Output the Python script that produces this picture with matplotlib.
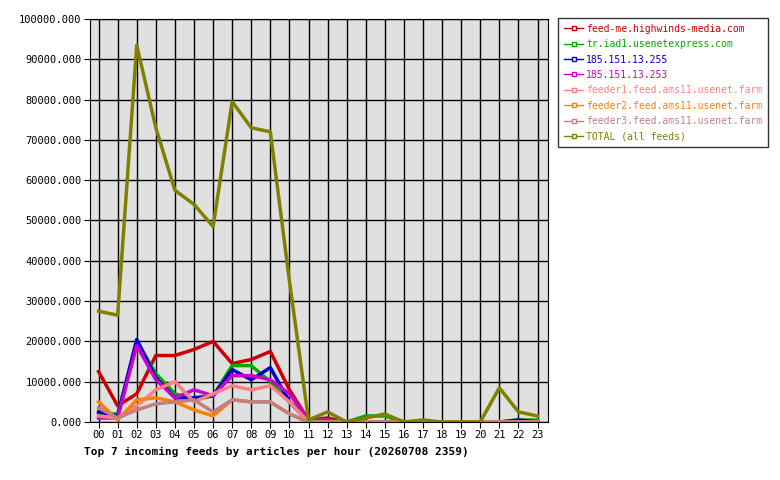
import numpy as np
import matplotlib.pyplot as plt
from matplotlib.lines import Line2D

hours = [f"{h:02d}" for h in range(24)]
names = ["feed-me.highwinds-media.com", "tr.iad1.usenetexpress.com",
         "185.151.13.255", "185.151.13.253",
         "feeder1.feed.ams11.usenet.farm", "feeder2.feed.ams11.usenet.farm",
         "feeder3.feed.ams11.usenet.farm", "TOTAL (all feeds)"]
colors = ["#cc0000", "#00aa00", "#0000cc", "#cc00cc",
          "#ff8080", "#ff8000", "#c08080", "#808000"]
z = [0] * 13
red = [12500, 4000, 7000, 16500, 16500, 18000, 20000, 14500, 15500, 17500, 8000] + [500, 1000] + [0] * 11
green = [2000, 2000, 20000, 12000, 7000, 5500, 6500, 14000, 14000, 10000, 5000, 500, 500, 0, 1500, 1500, 0, 0, 0, 0, 0, 0, 500, 500]
blue = [2500, 1500, 20500, 11000, 6000, 6000, 6500, 13000, 10500, 13500, 5000, 0, 0] + [0] * 9 + [500, 0]
magenta = [1000, 1000, 19000, 10500, 6000, 8000, 6500, 11500, 11500, 10500, 7000, 500, 500] + [0] * 11
feeder1 = [1500, 1000, 4000, 8000, 10000, 5000, 7000, 9000, 8000, 9000, 5000] + z
feeder2 = [5000, 500, 5500, 6000, 5000, 3000, 1500, 5500, 5000, 5000, 2000] + z
feeder3 = [3500, 1000, 3000, 4500, 5000, 5500, 2500, 5500, 5000, 5000, 2000] + z
total = [27500, 26500, 93500, 73000, 57500, 54000, 48500, 79500, 73000, 72000, 35000,
         500, 2500, 0, 1000, 2000, 0, 500, 0, 0, 0, 8500, 2500, 1500]
series = [red, green, blue, magenta, feeder1, feeder2, feeder3, total]

plt.rcParams["font.family"] = "DejaVu Sans Mono"
fig = plt.figure(figsize=(7.8, 4.8), dpi=100)
ax = fig.add_axes([90 / 780, 58 / 480, 458 / 780, 403 / 480])
ax.set_facecolor("#e0e0e0")
x = np.arange(24)
for s, c in zip(series, colors):
    ax.plot(x, s, color=c, lw=2.5)
ax.set_xlim(-0.45, 23.55)
ax.set_ylim(0, 100000)
ax.set_xticks(x)
ax.set_xticklabels(hours, fontsize=7.5)
ax.set_yticks(np.arange(0, 100001, 10000))
ax.set_yticklabels([f"{v}.000" for v in range(0, 100001, 10000)], fontsize=7.5)
ax.grid(color="black", lw=1)
ax.set_axisbelow(True)
for sp in ax.spines.values():
    sp.set_color("black")
ax.tick_params(length=4, color="black", pad=2)
fig.text(84 / 780, 1 - 452 / 480, "Top 7 incoming feeds by articles per hour (20260708 2359)",
         fontsize=8, fontweight="bold", va="center")
handles = [Line2D([], [], color=c, lw=1, marker="s", markersize=3, markerfacecolor="white")
           for c in colors]
leg = fig.legend(handles, names, loc="upper left", bbox_to_anchor=(558 / 780, 1 - 18 / 480),
                 fontsize=7, frameon=True, fancybox=False, edgecolor="black",
                 handlelength=2, handletextpad=0.3, labelspacing=0.55, borderaxespad=0,
                 borderpad=0.6)
leg.get_frame().set_linewidth(1)
for t, c in zip(leg.get_texts(), colors):
    t.set_color(c)
fig.savefig("out.png", dpi=100, facecolor="white")
